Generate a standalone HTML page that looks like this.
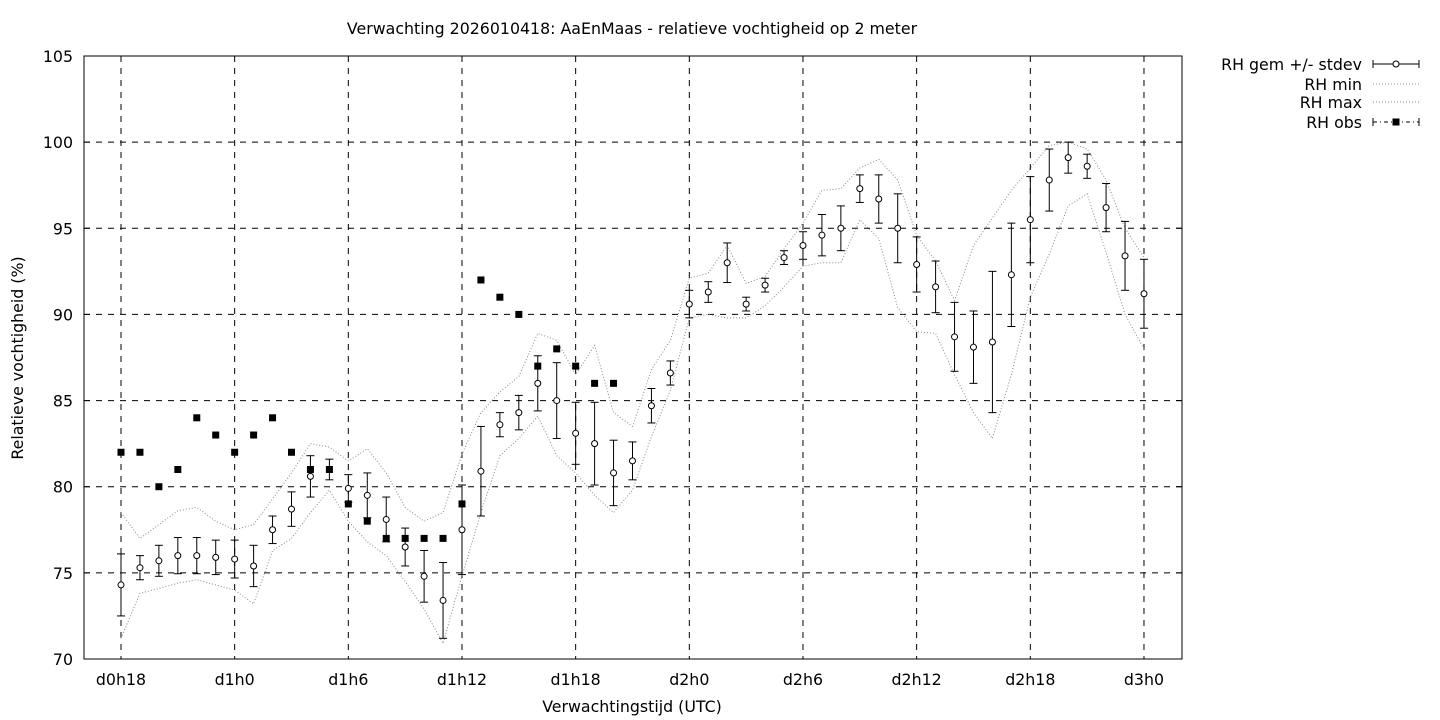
<!DOCTYPE html>
<html><head><meta charset="utf-8"><style>
html,body{margin:0;padding:0;background:#fff;width:1440px;height:720px;overflow:hidden}
svg{display:block}
text{font-family:"DejaVu Sans","Liberation Sans",sans-serif;font-size:15.8px;fill:#000}
</style></head><body>
<svg id="s" width="1440" height="720" xmlns="http://www.w3.org/2000/svg"></svg>
<script>
const s=document.getElementById('s');
const X0=121,DX=18.944,Y=v=>659-(v-70)*603/35,Xi=i=>X0+i*DX;
let h='';
const mean=[74.3,75.3,75.7,76.0,76.0,75.9,75.8,75.4,77.5,78.7,80.6,81.0,79.9,79.5,78.1,76.5,74.8,73.4,77.5,80.9,83.6,84.3,86.0,85.0,83.1,82.5,80.8,81.5,84.7,86.6,90.6,91.3,93.0,90.6,91.7,93.3,94.0,94.6,95.0,97.3,96.7,95.0,92.9,91.6,88.7,88.1,88.4,92.3,95.5,97.8,99.1,98.6,96.2,93.4,91.2];
const sd=[1.8,0.7,0.9,1.05,1.05,1.0,1.1,1.2,0.8,1.0,1.2,0.6,0.8,1.3,1.3,1.1,1.5,2.2,2.6,2.6,0.7,1.0,1.6,2.2,1.8,2.4,1.9,1.1,1.0,0.7,0.8,0.6,1.15,0.4,0.4,0.4,0.8,1.2,1.3,0.8,1.4,2.0,1.6,1.5,2.0,2.1,4.1,3.0,2.5,1.8,0.9,0.7,1.4,2.0,2.0];
const mn=[71.2,73.8,74.1,74.4,74.6,74.3,74.0,73.2,76.3,77.0,78.5,79.8,78.0,76.8,76.0,74.5,72.9,70.9,74.8,78.5,81.8,82.8,84.1,81.8,80.8,79.5,78.5,79.8,82.9,85.6,89.8,90.0,89.8,89.8,90.5,91.6,92.8,93.0,93.0,95.5,94.4,90.4,89.0,88.9,86.5,84.3,82.8,86.5,91.0,93.5,96.3,97.0,93.6,90.0,88.0];
const mx=[78.5,77.0,77.8,78.6,78.8,78.0,77.5,77.8,79.3,80.8,82.5,82.3,81.5,82.2,80.8,78.8,78.0,78.5,81.9,84.3,85.5,86.4,88.9,88.5,86.5,88.2,84.3,83.5,86.8,88.5,92.1,92.4,94.0,91.8,92.2,93.8,95.3,97.2,97.3,98.5,99.0,97.8,94.6,93.1,90.8,94.0,95.6,97.2,98.5,99.8,100,99.6,97.8,95.0,93.3];
const obs=[82,82,80,81,84,83,82,83,84,82,81,81,79,78,77,77,77,77,79,92,91,90,87,88,87,86,86];
for(let v=75;v<=100;v+=5)h+=`<line x1="84" x2="1182" y1="${Y(v)}" y2="${Y(v)}" stroke="#000" stroke-dasharray="6,6" stroke-width="1"/>`;
const xl=['d0h18','d1h0','d1h6','d1h12','d1h18','d2h0','d2h6','d2h12','d2h18','d3h0'];
xl.forEach((l,k)=>{const x=Xi(k*6);
h+=`<line x1="${x}" x2="${x}" y1="56" y2="659" stroke="#000" stroke-dasharray="6,6"/>`;
h+=`<text x="${x}" y="685" text-anchor="middle">${l}</text>`;});
for(let v=70;v<=105;v+=5)h+=`<text x="73" y="${Y(v)+6}" text-anchor="end">${v}</text><line x1="84" x2="90" y1="${Y(v)}" y2="${Y(v)}" stroke="#000"/><line x1="1176" x2="1182" y1="${Y(v)}" y2="${Y(v)}" stroke="#000"/>`;
h+=`<rect x="84" y="56" width="1098" height="603" fill="none" stroke="#000"/>`;
const pl=a=>a.map((v,i)=>Xi(i).toFixed(1)+','+Y(v).toFixed(1)).join(' ');
h+=`<polyline points="${pl(mn)}" fill="none" stroke="#888" stroke-dasharray="1,2"/>`;
h+=`<polyline points="${pl(mx)}" fill="none" stroke="#888" stroke-dasharray="1,2"/>`;
mean.forEach((m,i)=>{const x=Xi(i),a=Y(m-sd[i]),b=Y(m+sd[i]);
h+=`<line x1="${x}" x2="${x}" y1="${a}" y2="${b}" stroke="#000"/><line x1="${x-4}" x2="${x+4}" y1="${a}" y2="${a}" stroke="#000"/><line x1="${x-4}" x2="${x+4}" y1="${b}" y2="${b}" stroke="#000"/><circle cx="${x}" cy="${Y(m)}" r="3" fill="#fff" stroke="#000"/>`;});
obs.forEach((o,i)=>{h+=`<rect x="${Xi(i)-3.5}" y="${Y(o)-3.5}" width="7" height="7" fill="#000"/>`;});
h+=`<text x="632" y="34" text-anchor="middle">Verwachting 2026010418: AaEnMaas - relatieve vochtigheid op 2 meter</text>`;
h+=`<text x="632" y="712" text-anchor="middle">Verwachtingstijd (UTC)</text>`;
h+=`<text transform="translate(23,358) rotate(-90)" text-anchor="middle">Relatieve vochtigheid (%)</text>`;
const L=[['RH gem +/- stdev',64],['RH min',84],['RH max',102],['RH obs',122]];
L.forEach(([t,y],k)=>{h+=`<text x="1362" y="${y+6}" text-anchor="end">${t}</text>`;
if(k==0)h+=`<line x1="1373" x2="1419" y1="${y}" y2="${y}" stroke="#000"/><line x1="1373" x2="1373" y1="${y-4}" y2="${y+4}" stroke="#000"/><line x1="1419" x2="1419" y1="${y-4}" y2="${y+4}" stroke="#000"/><circle cx="1396" cy="${y}" r="3" fill="#fff" stroke="#000"/>`;
else if(k<3)h+=`<line x1="1373" x2="1419" y1="${y}" y2="${y}" stroke="#888" stroke-dasharray="1,2"/>`;
else h+=`<line x1="1373" x2="1419" y1="${y}" y2="${y}" stroke="#000" stroke-dasharray="4,3,1,3"/><line x1="1373" x2="1373" y1="${y-4}" y2="${y+4}" stroke="#000"/><line x1="1419" x2="1419" y1="${y-4}" y2="${y+4}" stroke="#000"/><rect x="1392.5" y="${y-3.5}" width="7" height="7"/>`;});
s.innerHTML=h;
</script>
</body></html>
